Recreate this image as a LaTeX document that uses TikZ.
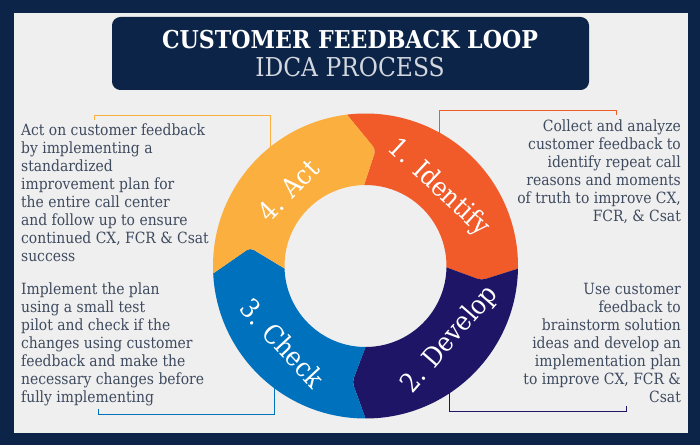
\documentclass[tikz,border=0pt]{standalone}
\usepackage{fontspec}
\setmainfont{DejaVu Serif Condensed}
\usepackage{tikz}
\usetikzlibrary{positioning, calc}
\usepackage{xcolor}

\definecolor{framenavy}{HTML}{0B2447}
\definecolor{panelgray}{HTML}{EFEFEF}
\definecolor{identifyorange}{HTML}{F15A29}
\definecolor{developnavy}{HTML}{1E1566}
\definecolor{checkblue}{HTML}{0071BC}
\definecolor{actyellow}{HTML}{FBAF3F}
\definecolor{bodyslate}{HTML}{3E4A5E}
\definecolor{subtitlegray}{HTML}{D3D7DF}

\tikzset{
  bodytext/.style={text=bodyslate, inner sep=0pt, font=\fontsize{22}{25.6}\selectfont},
  ringlabel/.style={text=white, inner sep=0pt, font=\fontsize{38}{40}\selectfont},
  bracket/.style={line width=1.2pt},
}

\begin{document}
\begin{tikzpicture}[x=0.05cm, y=0.05cm]
  % Frame and panel
  \fill[framenavy] (0,0) rectangle (700,445);
  \fill[panelgray] (14,12) rectangle (688,432);

  % Title
  \fill[framenavy, rounded corners=12] (112,355) rectangle (589,428);
  \node[anchor=base, text=white, font=\fontsize{35}{38}\bfseries] (title) at (350,396) {CUSTOMER FEEDBACK LOOP};
  \node[anchor=base, text=subtitlegray, font=\fontsize{37}{40}\selectfont] (subtitle) at (350,368) {IDCA PROCESS};

  % Brackets (drawn first so they tuck under the ring)
  \coordinate (c) at (365.5,179);
  \coordinate (actA) at (94,325);  \coordinate (actB) at (94,330);
  \coordinate (actC) at (270,330); \coordinate (actD) at (270,245);
  \draw[bracket, actyellow] (actA) -- (actB) -- (actC) -- (actD);

  \coordinate (idA) at (616,330); \coordinate (idB) at (616,335);
  \coordinate (idC) at (439,335); \coordinate (idD) at (439,265);
  \draw[bracket, identifyorange] (idA) -- (idB) -- (idC) -- (idD);

  \coordinate (chkA) at (98,36);  \coordinate (chkB) at (98,31);
  \coordinate (chkC) at (274,31); \coordinate (chkD) at (274,115);
  \draw[bracket, checkblue] (chkA) -- (chkB) -- (chkC) -- (chkD);

  \coordinate (devA) at (626,39); \coordinate (devB) at (626,34);
  \coordinate (devC) at (449,34); \coordinate (devD) at (449,115);
  \draw[bracket, developnavy] (devA) -- (devB) -- (devC) -- (devD);

  % Ring segments
  \begin{scope}[shift={(c)}]
    \fill[identifyorange] (97:152.5) arc[start angle=97, end angle=-1, radius=152.5]
      [rounded corners=6] -- (-7:116.75) [sharp corners] -- (-1:81)
      arc[start angle=-1, end angle=91, radius=81]
      [rounded corners=6] -- (85:116.75) [sharp corners] -- cycle;
    \fill[developnavy] (-1:152.5) arc[start angle=-1, end angle=-90, radius=152.5]
      [rounded corners=6] -- (-96.5:116.75) [sharp corners] -- (-90:81)
      arc[start angle=-90, end angle=-1, radius=81]
      [rounded corners=6] -- (-7:116.75) [sharp corners] -- cycle;
    \fill[checkblue] (270:152.5) arc[start angle=270, end angle=182.8, radius=152.5]
      [rounded corners=6] -- (171:116.75) [sharp corners] -- (181.8:81)
      arc[start angle=181.8, end angle=270, radius=81]
      [rounded corners=6] -- (263.5:116.75) [sharp corners] -- cycle;
    \fill[actyellow] (182.8:152.5) arc[start angle=182.8, end angle=97, radius=152.5]
      [rounded corners=6] -- (85:116.75) [sharp corners] -- (91:81)
      arc[start angle=91, end angle=181.8, radius=81]
      [rounded corners=6] -- (171:116.75) [sharp corners] -- cycle;

    \node[ringlabel, rotate=-43] (identify) at (47:107) {1. Identify};
    \node[ringlabel, rotate=49] (develop) at (-41:112) {2. Develop};
    \node[ringlabel, rotate=-47] (check) at (-137:113) {3. Check};
    \node[ringlabel, rotate=45.5] (act) at (135.5:108) {4. Act};
  \end{scope}

  % Descriptions
  \node[bodytext, anchor=north west, align=left] (acttext) at (21,321)
    {Act on customer feedback\\by implementing a\\standardized\\improvement plan for\\the entire call center\\and follow up to ensure\\continued CX, FCR \& Csat\\success};
  \node[bodytext, anchor=north east, align=right] (identifytext) at (681,325)
    {Collect and analyze\\customer feedback to\\identify repeat call\\reasons and moments\\of truth to improve CX,\\FCR, \& Csat};
  \node[bodytext, anchor=north west, align=left] (checktext) at (21,162)
    {Implement the plan\\using a small test\\pilot and check if the\\changes using customer\\feedback and make the\\necessary changes before\\fully implementing};
  \node[bodytext, anchor=north east, align=right] (developtext) at (681,162)
    {Use customer\\feedback to\\brainstorm solution\\ideas and develop an\\implementation plan\\to improve CX, FCR \&\\Csat};
\end{tikzpicture}
\end{document}
